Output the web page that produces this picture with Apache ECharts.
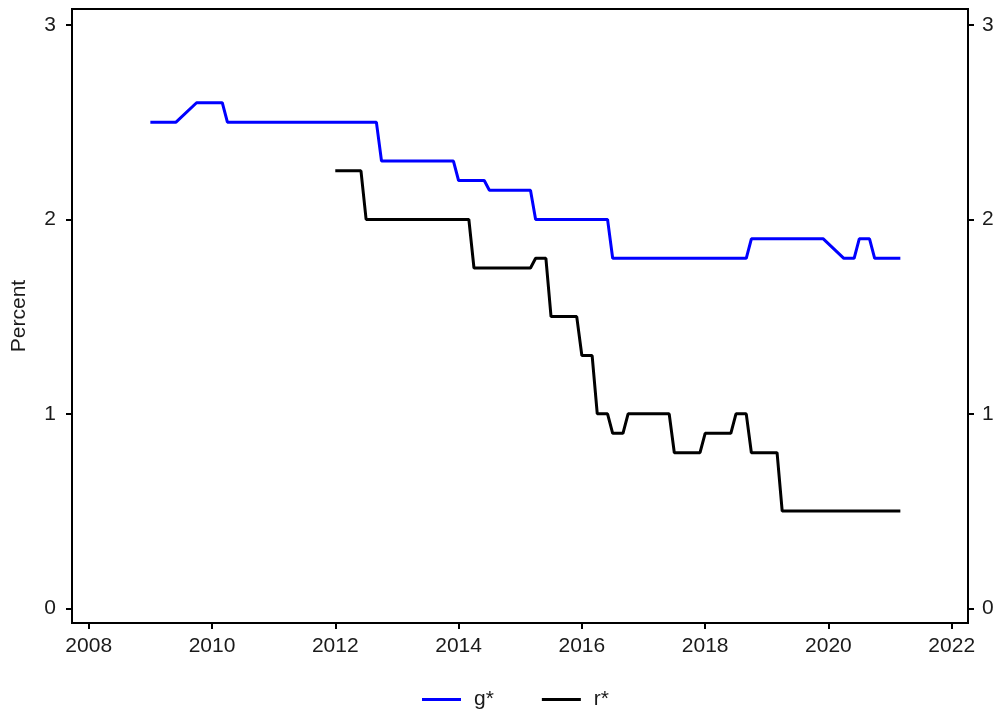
<!DOCTYPE html>
<html>
<head>
<meta charset="utf-8">
<script src="https://cdn.jsdelivr.net/npm/echarts@6/dist/echarts.min.js"></script>
<style>
  html, body { margin: 0; padding: 0; background: #fff; }
  #chart { width: 1001px; height: 715px; }
</style>
</head>
<body>
<div id="chart"></div>
<script>
// Monthly vertices of each series (year-month, percent)
const gDates = ['2009-01','2009-06','2009-10','2010-03','2010-04','2012-09','2012-10','2013-12','2014-01','2014-06','2014-07','2015-03','2015-04','2016-06','2016-07','2018-09','2018-10','2019-12','2020-04','2020-06','2020-07','2020-09','2020-10','2021-03'];
const gValues = [2.5,2.5,2.6,2.6,2.5,2.5,2.3,2.3,2.2,2.2,2.15,2.15,2.0,2.0,1.8,1.8,1.9,1.9,1.8,1.8,1.9,1.9,1.8,1.8];

const rDates = ['2012-01','2012-06','2012-07','2014-03','2014-04','2015-03','2015-04','2015-06','2015-07','2015-12','2016-01','2016-03','2016-04','2016-06','2016-07','2016-09','2016-10','2017-06','2017-07','2017-12','2018-01','2018-06','2018-07','2018-09','2018-10','2019-03','2019-04','2021-03'];
const rValues = [2.25,2.25,2.0,2.0,1.75,1.75,1.8,1.8,1.5,1.5,1.3,1.3,1.0,1.0,0.9,0.9,1.0,1.0,0.8,0.8,0.9,0.9,1.0,1.0,0.8,0.8,0.5,0.5];

const xTicks = [2008, 2010, 2012, 2014, 2016, 2018, 2020, 2022];
const yTicks = [0, 1, 2, 3];

// "YYYY-MM" -> decimal year
function toYear(s) {
  const [y, m] = s.split('-').map(Number);
  return y + (m - 1) / 12;
}
function pairs(dates, values) {
  return dates.map((d, i) => [toYear(d), values[i]]);
}

const FONT = 'Liberation Sans, Arial, sans-serif';
const axisLine = { show: true, onZero: false, lineStyle: { color: '#000', width: 2 } };
const axisTick = { show: true, length: 6, lineStyle: { color: '#000', width: 2 } };
const labelStyle = { color: '#1a1a1a', fontSize: 21, fontFamily: FONT };

const chart = echarts.init(document.getElementById('chart'), null, { renderer: 'canvas' });
chart.setOption({
  animation: false,
  backgroundColor: '#fff',
  grid: {
    left: 72, right: 33, top: 9, bottom: 92,
    show: true, borderColor: '#000', borderWidth: 2, backgroundColor: 'transparent'
  },
  xAxis: {
    type: 'value',
    min: 2007.729, max: 2022.264,
    axisLine: axisLine,
    axisTick: Object.assign({ customValues: xTicks }, axisTick),
    axisLabel: Object.assign({ customValues: xTicks, margin: 13, formatter: v => String(v) }, labelStyle),
    splitLine: { show: false }
  },
  yAxis: [
    {
      type: 'value',
      position: 'left',
      min: -0.0756, max: 3.082,
      name: 'Percent',
      nameLocation: 'middle',
      nameRotate: 90,
      nameGap: 42,
      nameTextStyle: labelStyle,
      axisLine: axisLine,
      axisTick: Object.assign({ customValues: yTicks }, axisTick),
      axisLabel: Object.assign({ customValues: yTicks, margin: 16 }, labelStyle),
      splitLine: { show: false }
    },
    {
      type: 'value',
      position: 'right',
      min: -0.0756, max: 3.082,
      axisLine: axisLine,
      axisTick: Object.assign({ customValues: yTicks }, axisTick),
      axisLabel: Object.assign({ customValues: yTicks, margin: 14 }, labelStyle),
      splitLine: { show: false }
    }
  ],
  legend: {
    left: 417, top: 684,
    icon: 'rect',
    itemWidth: 39, itemHeight: 3,
    itemGap: 48,
    textStyle: Object.assign({ padding: [0, 0, 0, 8] }, labelStyle),
    data: ['g*', 'r*']
  },
  series: [
    {
      name: 'g*', type: 'line', yAxisIndex: 0,
      data: pairs(gDates, gValues),
      showSymbol: false,
      lineStyle: { color: '#0000ff', width: 3 },
      itemStyle: { color: '#0000ff' }
    },
    {
      name: 'r*', type: 'line', yAxisIndex: 0,
      data: pairs(rDates, rValues),
      showSymbol: false,
      lineStyle: { color: '#000000', width: 3 },
      itemStyle: { color: '#000000' }
    }
  ]
});
</script>
</body>
</html>
